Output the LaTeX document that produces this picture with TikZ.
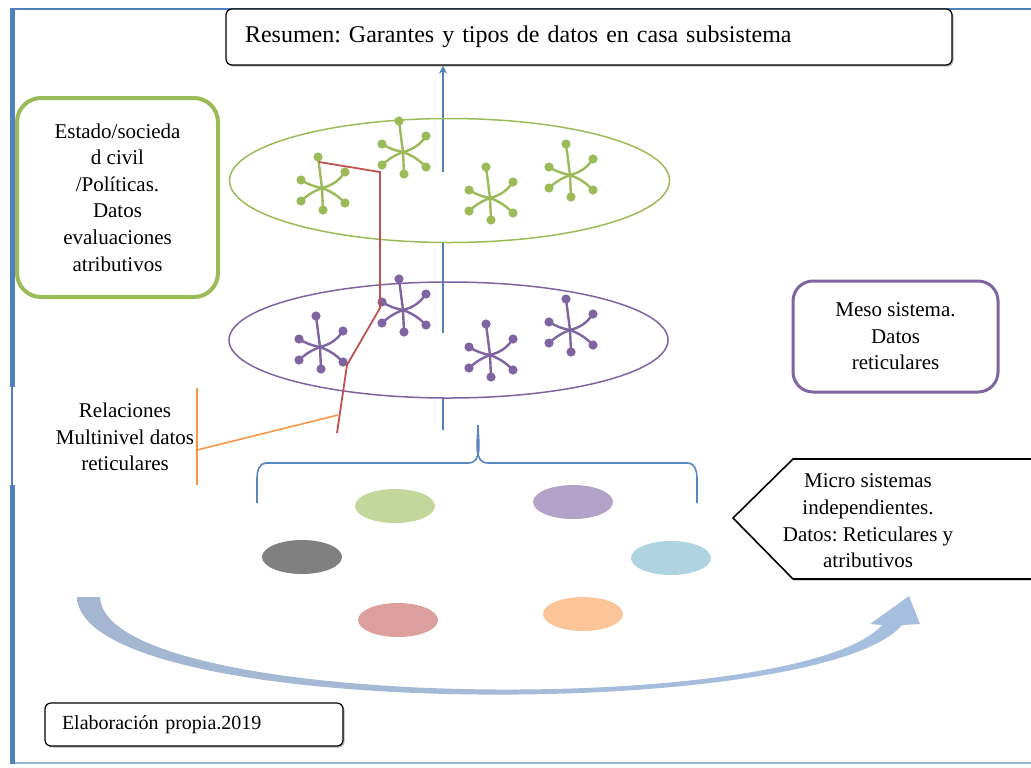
\documentclass[tikz,border=0pt]{standalone}
\usepackage{fontspec}
\setmainfont{Liberation Serif}
\frenchspacing
\usetikzlibrary{positioning}
\usetikzlibrary{shadows}
\usetikzlibrary{shapes.geometric}
\usetikzlibrary{arrows.meta}

\definecolor{frameblue}{HTML}{4F81BD}
\definecolor{lvgreen}{HTML}{9BBB59}
\definecolor{lvpurple}{HTML}{8064A2}
\definecolor{linkred}{HTML}{C0504D}
\definecolor{linkorange}{HTML}{F79646}
\definecolor{bracecol}{HTML}{5A86C0}
\definecolor{arrowL}{HTML}{A4B6D0}
\definecolor{arrowR}{HTML}{A6BFE0}

\tikzset{
  hub/.pic={
    \foreach \dx/\dy/\bd in {-4/-31/0, 23/-16/-20, 23/15/12, 1/22/0, -21/13/-10, -21/-8/10} {
      \draw[line width=1.2pt] (0,0) to[bend left=\bd] (\dx,\dy);
      \fill (\dx,\dy) circle[radius=2.3pt];
    }
  },
  plainbox/.style={draw=black, fill=white, rounded corners=3pt, line width=0.6pt,
    drop shadow={shadow xshift=0.8pt, shadow yshift=-0.8pt, opacity=0.6}},
  levelbox/.style={fill=white, line width=2pt, rounded corners=12pt},
  blob/.style={ellipse, minimum width=40pt, minimum height=17pt, inner sep=0}
}

\begin{document}
\begin{tikzpicture}[x=0.5pt, y=-0.5pt,
  every node/.style={font=\rmfamily\fontsize{10.5}{13.3}\selectfont, align=center}]
  \useasboundingbox (0,0) rectangle (1031,767);
  % frame
  \draw[frameblue, line width=0.8pt] (12,9) -- (1031,9);
  \draw[frameblue!60, line width=0.8pt] (12,763) -- (1031,763);
  \draw[frameblue, line width=2.5pt] (12,8) -- (12,387);
  \draw[frameblue, line width=0.8pt] (12,387) -- (12,485);
  \draw[frameblue, line width=2.5pt] (12,485) -- (12,764);

  \node[plainbox, minimum width=363pt, minimum height=28pt, text width=344pt,
    inner xsep=9.5pt, align=left, font=\rmfamily\fontsize{12}{14}\selectfont]
    (title) at (589,37) {Resumen: Garantes y tipos de datos en casa subsistema};

  % axis through the levels
  \coordinate (base) at (443,430);
  \draw[frameblue, line width=0.8pt, -{Stealth[length=4pt, width=4pt]}]
    (base) -- (base |- title.south);
  \begin{scope}
    \clip (200,172) rectangle (700,250);
    \fill[white] (449.5,180.5) ellipse[x radius=220, y radius=62];
  \end{scope}
  \begin{scope}
    \clip (200,333) rectangle (700,405);
    \fill[white] (448.5,340) ellipse[x radius=219.5, y radius=58];
  \end{scope}

  % levels
  \node[ellipse, draw=lvgreen, line width=0.75pt, minimum width=220pt,
    minimum height=62pt, inner sep=0] (macro) at (449.5,180.5) {};
  \node[ellipse, draw=lvpurple, line width=0.75pt, minimum width=219.5pt,
    minimum height=58pt, inner sep=0] (meso) at (448.5,340) {};
  \foreach \hx/\hy in {322/188, 403/152, 490/198, 570/175}
    \pic[color=lvgreen] at (\hx,\hy) {hub};
  \foreach \hx/\hy in {320/347, 403/310, 490/355, 570/330}
    \pic[color=lvpurple] at (\hx,\hy) {hub};

  % multilevel link
  \coordinate (r1) at (319,162);
  \coordinate (r2) at (380,172);
  \coordinate (r3) at (380,308);
  \coordinate (r4) at (347,365);
  \coordinate (r5) at (337,433);
  \coordinate (rhit) at (338,415);
  \draw[linkred, line width=0.9pt] (r1) -- (r2) -- (r3) -- (r4) -- (r5);

  \node (relac) at (125,437) {Relaciones\\Multinivel datos\\reticulares};
  \coordinate (otop) at (197,388);
  \coordinate (obot) at (197,485);
  \coordinate (omid) at (197,450);
  \draw[linkorange, line width=0.8pt] (otop) -- (obot);
  \draw[linkorange, line width=0.8pt] (omid) -- (rhit);

  % side labels
  \node[levelbox, draw=lvgreen, minimum width=100.5pt, minimum height=99.5pt]
    (estado) at (117.5,197.5)
    {Estado/socieda\\d civil\\/Políticas.\\Datos\\evaluaciones\\atributivos};
  \node[levelbox, draw=lvpurple, line width=1.5pt, rounded corners=10pt,
    minimum width=102.5pt, minimum height=55.5pt]
    (mesobox) at (895.5,336.5) {Meso sistema.\\Datos\\reticulares};

  \draw[black, fill=white, line width=0.8pt,
    drop shadow={shadow xshift=0.8pt, shadow yshift=-0.8pt, opacity=0.5}]
    (1045,459) -- (793,459) -- (733,518) -- (793,579) -- (1045,579) -- cycle;
  \node (micro) at (868,521)
    {Micro sistemas\\independientes.\\Datos: Reticulares y\\atributivos};

  % brace over the micro systems
  \draw[bracecol, line width=0.8pt] (257,503) -- (257,478)
    to[out=90, in=180] (266,463) -- (468,463) to[out=0, in=-90] (478,425)
    to[out=-90, in=180] (488,463) -- (688,463) to[out=0, in=90] (697,478)
    -- (697,503);

  % micro systems
  \node[blob, fill=lvgreen!60] (m1) at (395,506) {};
  \node[blob, fill=lvpurple!60] (m2) at (573,502) {};
  \node[blob, fill=black!50] (m3) at (302,557) {};
  \node[blob, fill=cyan!30!teal!35] (m4) at (671,558) {};
  \node[blob, fill=linkred!55] (m5) at (398,620) {};
  \node[blob, fill=linkorange!55] (m6) at (583,614) {};
  \fill[white] (439,607) circle[radius=3.5pt];

  % cycle arrow
  \shade[left color=arrowL, right color=arrowR] (77,597) -- (100,597)
    .. controls (105,712) and (800,718) .. (882,625) -- (870,624)
    -- (909,596) -- (920,624) -- (902,625)
    .. controls (820,722) and (82,722) .. (77,597) -- cycle;

  \node[plainbox, minimum width=149pt, minimum height=21.5pt, text width=132pt,
    inner xsep=8.5pt, align=left, font=\rmfamily\fontsize{10}{12}\selectfont]
    (elab) at (194,724.5) {Elaboración propia.2019};
\end{tikzpicture}
\end{document}
